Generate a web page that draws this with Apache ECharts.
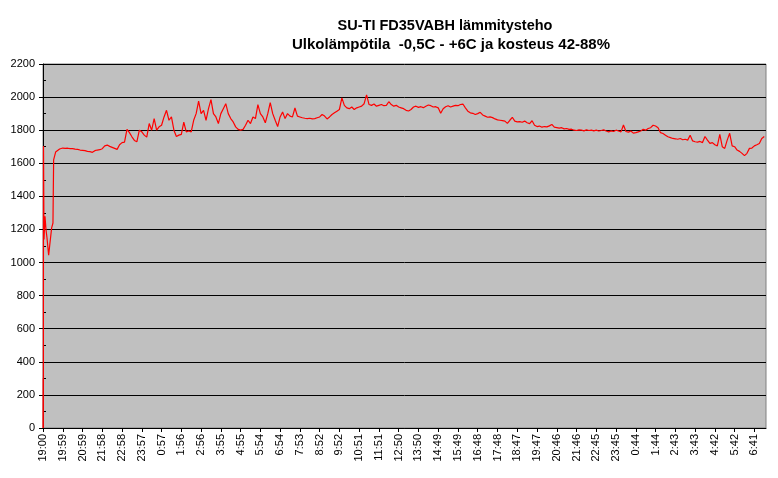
<!DOCTYPE html>
<html>
<head>
<meta charset="utf-8">
<script src="https://cdn.jsdelivr.net/npm/echarts@6/dist/echarts.min.js"></script>
<style>html,body{margin:0;padding:0;background:#fff}#c{width:778px;height:478px}</style>
</head>
<body>
<div id="c"></div>
<script>
// Tick labels along the time axis (one every ~59.5 min)
const tickLabels = ['19:00','19:59','20:59','21:58','22:58','23:57','0:57','1:56','2:56','3:55','4:55','5:54','6:54','7:53','8:52','9:52','10:51','11:51','12:50','13:50','14:49','15:49','16:48','17:48','18:47','19:47','20:46','21:46','22:45','23:45','0:44','1:44','2:43','3:43','4:42','5:42','6:41'];
const tickMinutes = 59.5;
const titleLine1 = 'SU-TI FD35VABH lämmitysteho';
const titleLine2 = 'Ulkolämpötila  -0,5C - +6C ja kosteus 42-88%';
// Start-up transient: [minutes after 19:00, power W]
const startup = [[0,0],[0.5,300],[1,0],[1.5,1704],[3,1140],[6,1280],[9,1200],[12,1150],[17,1045],[22,1136],[26,1209],[30,1239],[32,1620],[38,1668],[50,1686]];
// Regular samples from 19:59 on, 8 per tick interval
const sampleStart = 59.5;
const samplesPerTick = 8;
const power = [
1692,1690,1691,1688,1689,1686,1684,1680,
1678,1676,1672,1670,1666,1676,1680,1682,
1688,1705,1710,1702,1696,1690,1684,1712,
1725,1728,1805,1785,1760,1738,1730,1800,
1790,1770,1758,1840,1800,1870,1800,1820,
1830,1880,1920,1860,1880,1800,1762,1770,
1775,1848,1790,1795,1790,1860,1900,1976,
1900,1920,1860,1930,1985,1900,1880,1840,
1900,1930,1960,1900,1870,1850,1820,1805,
1800,1805,1830,1860,1840,1880,1870,1955,
1900,1880,1845,1900,1966,1900,1860,1822,
1880,1910,1870,1900,1885,1880,1934,1885,
1880,1875,1872,1870,1872,1868,1870,1875,
1880,1895,1885,1868,1880,1895,1905,1915,
1925,1995,1950,1935,1930,1940,1925,1935,
1940,1945,1960,2013,1955,1950,1958,1945,
1950,1955,1948,1950,1972,1955,1945,1950,
1940,1935,1930,1920,1916,1925,1940,1945,
1938,1942,1936,1945,1952,1948,1940,1942,
1935,1902,1930,1942,1948,1940,1945,1950,
1948,1955,1958,1935,1915,1905,1902,1895,
1900,1908,1892,1885,1878,1880,1876,1868,
1862,1860,1858,1855,1841,1860,1878,1855,
1850,1852,1848,1855,1845,1840,1857,1830,
1822,1825,1818,1822,1820,1826,1835,1818,
1815,1812,1815,1808,1810,1805,1806,1800,
1798,1802,1800,1796,1802,1798,1800,1796,
1800,1795,1798,1802,1795,1790,1796,1792,
1800,1795,1790,1831,1792,1788,1795,1782,
1785,1790,1795,1805,1800,1810,1815,1830,
1825,1815,1785,1780,1770,1760,1755,1750,
1748,1745,1750,1742,1745,1740,1770,1735,
1730,1728,1732,1725,1762,1740,1720,1725,
1712,1705,1775,1700,1690,1740,1781,1705,
1700,1680,1672,1660,1646,1660,1690,1692,
1705,1712,1720,1750,1762
];
const yTicks = [0,200,400,600,800,1000,1200,1400,1600,1800,2000,2200];

const step = tickMinutes / samplesPerTick;
const seriesData = startup.concat(power.map((v, i) => [sampleStart + i * step, v]));
const tickPos = tickLabels.map((_, i) => i * tickMinutes);

const chart = echarts.init(document.getElementById('c'), null, {renderer: 'canvas'});
const font = '"Liberation Sans", Arial, sans-serif';
chart.setOption({
  animation: false,
  backgroundColor: '#ffffff',
  title: [{
    text: titleLine1, left: 440, top: 13, textAlign: 'center',
    textStyle: {fontFamily: font, fontSize: 14.5, fontWeight: 'bold', color: '#000'}
  }, {
    text: titleLine2, left: 446, top: 32, textAlign: 'center',
    textStyle: {fontFamily: font, fontSize: 15, fontWeight: 'bold', color: '#000'}
  }],
  grid: {left: 43, right: 12, top: 64, bottom: 50, show: true, backgroundColor: '#C0C0C0', borderColor: '#808080', borderWidth: 1},
  xAxis: {
    type: 'value', min: 0, max: 2177,
    axisLine: {show: true, lineStyle: {color: '#000', width: 1}},
    axisTick: {show: true, length: 4, lineStyle: {color: '#000'}, customValues: tickPos},
    axisLabel: {
      customValues: tickPos, rotate: 90, margin: 6,
      fontFamily: font, fontSize: 11, color: '#000',
      formatter: v => tickLabels[Math.round(v / tickMinutes)]
    },
    splitLine: {show: false}
  },
  yAxis: [{
    type: 'value', min: 0, max: 2200, interval: 200,
    axisLine: {show: true, lineStyle: {color: '#000', width: 1}},
    axisTick: {show: true, length: 4, lineStyle: {color: '#000'}},
    axisLabel: {fontFamily: font, fontSize: 11, color: '#000', margin: 8,
      formatter: v => String(yTicks[Math.round(v / 200)])},
    splitLine: {show: true, lineStyle: {color: '#000', width: 1}}
  }, {
    type: 'value', min: 0, max: 2200, interval: 100, position: 'left', offset: 0,
    axisLine: {show: false},
    axisTick: {show: true, inside: true, length: 3, lineStyle: {color: '#000'}},
    axisLabel: {show: false},
    splitLine: {show: false}
  }],
  series: [{
    type: 'line', data: seriesData, showSymbol: false, symbol: 'none', z: 10,
    lineStyle: {color: '#FF0000', width: 1.2}, sampling: null, clip: false
  }]
});
</script>
</body>
</html>
